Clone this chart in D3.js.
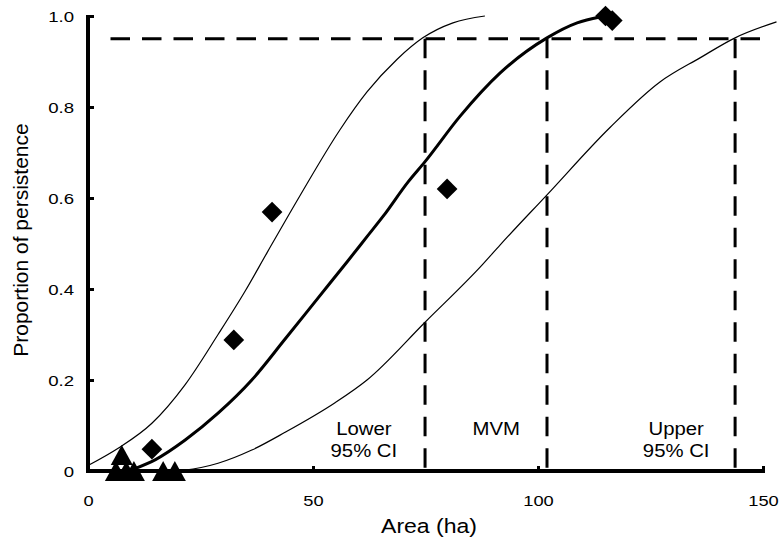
<!DOCTYPE html>
<meta charset="utf-8">
<style>
body { margin: 0; background: #fff; }
text { font-family: "Liberation Sans", Arial, Helvetica, sans-serif; fill: #000; }
</style>
<svg id="chart" width="779" height="538"></svg>
<script src="https://cdn.jsdelivr.net/npm/d3@7/dist/d3.min.js"></script>
<script>

// data (area in ha, proportion persisting)
var xTicks = [0, 50, 100, 150];
var yTicks = [0, 0.2, 0.4, 0.6, 0.8, 1.0];
var yTickLabels = ["0", "0.2", "0.4", "0.6", "0.8", "1.0"];

var lowerCI = [[0, 0.012], [6.7, 0.05], [14.2, 0.105], [21.6, 0.19], [28.9, 0.3],
  [34.9, 0.395], [39.8, 0.48], [47.1, 0.605], [56, 0.75], [62, 0.833], [68.7, 0.905],
  [74.4, 0.952], [81.1, 0.985], [88.2, 1.0]];

var mvmCurve = [[10.4, 0.005], [15, 0.025], [21.6, 0.068], [28.9, 0.127], [36.4, 0.2],
  [43.8, 0.29], [51.1, 0.38], [57.6, 0.46], [62, 0.515], [65.6, 0.56], [71.1, 0.635],
  [74.9, 0.68], [82.7, 0.78], [91.6, 0.875], [102, 0.952], [108.7, 0.985], [113.8, 0.998]];

var upperCI = [[18, 0], [21.6, 0.002], [28.9, 0.017], [36.4, 0.046], [43.8, 0.085],
  [54.9, 0.15], [62, 0.2], [74.9, 0.327], [87.6, 0.453], [91.6, 0.497], [102, 0.607],
  [116, 0.755], [127.1, 0.855], [136, 0.908], [143.8, 0.952], [153, 0.987]];

var persisted = [[14.2, 0.048], [32.4, 0.288], [40.9, 0.569], [79.8, 0.62], [115, 1.0], [116.5, 0.99]];
var extinct = [[6.2, 0], [7.5, 0.035], [8.5, 0], [10.2, 0], [16.7, 0], [19.3, 0]];

var threshold = 0.95;
var crossings = [74.9, 102, 143.8];   // lower CI, MVM, upper CI at 0.95
var regionNames = [["Lower", "95% CI"], ["MVM"], ["Upper", "95% CI"]];
var regionAt = [61.3, 90.7, 130.7];

// set up
var svg = d3.select("#chart");
var x = d3.scaleLinear().domain([0, 150]).range([88, 763]);
var y = d3.scaleLinear().domain([0, 1]).range([471, 16]);

// dashed reference lines
var dash = "19.5,12";
svg.append("line")
  .attr("x1", x(5)).attr("x2", x(150))
  .attr("y1", y(threshold)).attr("y2", y(threshold))
  .attr("stroke", "#000").attr("stroke-width", 3).attr("stroke-dasharray", dash);

svg.selectAll(".vdash")
  .data(crossings)
  .enter().append("line")
  .attr("class", "vdash")
  .attr("x1", d => x(d)).attr("x2", d => x(d))
  .attr("y1", y(threshold)).attr("y2", y(0))
  .attr("stroke", "#000").attr("stroke-width", 3).attr("stroke-dasharray", dash);

// curves
var line = d3.line()
  .x(d => x(d[0])).y(d => y(d[1]))
  .curve(d3.curveMonotoneX);

[[lowerCI, 1.2], [upperCI, 1.2], [mvmCurve, 3]].forEach(function (c) {
  svg.append("path")
    .datum(c[0])
    .attr("d", line)
    .attr("fill", "none")
    .attr("stroke", "#000")
    .attr("stroke-width", c[1])
    .attr("stroke-linejoin", "round");
});

// region labels
var labels = svg.selectAll(".region")
  .data(regionNames)
  .enter().append("text")
  .attr("class", "region")
  .attr("text-anchor", "middle")
  .attr("font-size", 18)
  .attr("transform", (d, i) => "translate(" + x(regionAt[i]) + "," + 435 + ") scale(1.13,1)");
labels.selectAll("tspan")
  .data(d => d)
  .enter().append("tspan")
  .attr("x", 0)
  .attr("y", (d, i) => i * 22)
  .text(d => d);

// axes
var xAxis = svg.append("g")
  .attr("transform", "translate(0," + y(0) + ")")
  .call(d3.axisBottom(x).tickValues(xTicks).tickSizeInner(-5).tickSizeOuter(0)
    .tickFormat(d3.format("d")));

var yAxis = svg.append("g")
  .attr("transform", "translate(" + x(0) + ",0)")
  .call(d3.axisLeft(y).tickValues(yTicks).tickSizeInner(-6).tickSizeOuter(0)
    .tickFormat((d, i) => yTickLabels[i]));

[xAxis, yAxis].forEach(function (g) {
  g.select(".domain").attr("stroke", "#000").attr("stroke-width", 4);
  g.selectAll(".tick line").attr("stroke", "#000").attr("stroke-width", 3);
  g.selectAll(".tick text").attr("font-size", 15.5).attr("fill", "#000")
    .attr("font-family", "Liberation Sans, Arial, sans-serif");
});
xAxis.select(".domain").attr("d", "M" + (x(0) - 2) + ",0H" + (x(150) + 2));
yAxis.select(".domain").attr("d", "M0," + (y(0) + 2) + "V" + (y(1) - 1));
xAxis.selectAll(".tick line").filter(d => d === 0).remove();
xAxis.selectAll(".tick text")
  .attr("y", 35).attr("dy", null)
  .attr("transform", "scale(1.18,1)");
yAxis.selectAll(".tick text")
  .attr("x", -14 / 1.2).attr("dy", "0.36em")
  .attr("transform", "scale(1.2,1)");

// axis titles
svg.append("text")
  .attr("text-anchor", "middle")
  .attr("font-size", 19.5)
  .attr("transform", "translate(429,533) scale(1.18,1)")
  .text("Area (ha)");

svg.append("text")
  .attr("text-anchor", "middle")
  .attr("font-size", 21)
  .attr("transform", "translate(28,240) rotate(-90)")
  .text("Proportion of persistence");

// points
svg.selectAll(".persist")
  .data(persisted)
  .enter().append("path")
  .attr("class", "persist")
  .attr("d", d3.symbol().type(d3.symbolSquare).size(215))
  .attr("transform", d => "translate(" + x(d[0]) + "," + y(d[1]) + ") rotate(45)")
  .attr("fill", "#000");

svg.selectAll(".extinct")
  .data(extinct)
  .enter().append("path")
  .attr("class", "extinct")
  .attr("d", "M0,-10L11,10L-11,10Z")
  .attr("transform", d => "translate(" + x(d[0]) + "," + y(d[1]) + ")")
  .attr("fill", "#000");

</script>
